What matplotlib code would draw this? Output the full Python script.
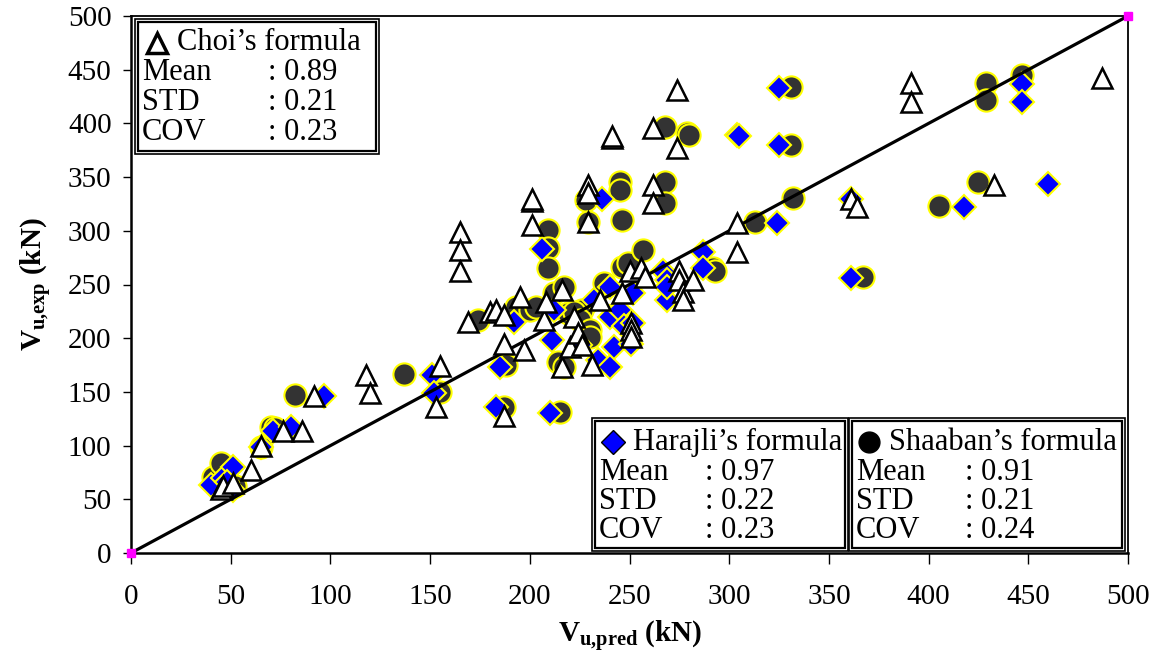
import matplotlib
matplotlib.use('Agg')
import matplotlib.pyplot as plt
from matplotlib.patches import Rectangle

plt.rcParams['font.family'] = ['Liberation Serif', 'DejaVu Serif']
plt.rcParams['mathtext.fontset'] = 'custom'
plt.rcParams['mathtext.rm'] = 'Liberation Serif'
plt.rcParams['mathtext.bf'] = 'Liberation Serif:bold'

# Choi's formula (pred, exp)
choi_x = [45, 46, 51, 60, 65, 76, 86, 92, 118, 120, 153, 155, 165, 165, 165,
          169, 180, 183, 187, 187, 187, 195, 197, 201, 201, 201, 207, 208, 216,
          216, 220, 222, 224, 226, 229, 229, 229, 231, 235, 241, 241, 246, 250,
          251, 251, 251, 256, 258, 262, 262, 262, 274, 274, 275, 275, 277, 277,
          282, 304, 304, 361, 364, 391, 391, 433, 487]
choi_y = [60, 62, 65, 77, 100, 114, 114, 146, 166, 149, 136, 174, 299, 282, 263,
          215, 224, 226, 222, 195, 128, 238, 189, 328, 330, 305, 217, 234, 245,
          173, 192, 220, 205, 194, 343, 335, 308, 175, 236, 386, 388, 242, 263,
          214, 208, 201, 265, 257, 396, 343, 326, 431, 377, 263, 254, 243, 236,
          254, 307, 280, 330, 322, 438, 420, 343, 442]

# Harajli's formula
har_x = [40, 46, 51, 51, 48, 65, 71, 80, 97, 151, 152, 183, 185, 192, 206,
         210, 211, 212, 225, 232, 234, 236, 240, 240, 240, 242, 245, 247, 251,
         252, 252, 267, 269, 269, 269, 287, 287, 304, 305, 324, 325, 325, 361,
         361, 418, 447, 447, 460]
har_y = [63, 70, 80, 59, 66, 99, 114, 117, 146, 166, 149, 136, 173, 215, 283,
         130, 198, 226, 194, 236, 180, 330, 173, 220, 248, 192, 226, 211, 195,
         214, 242, 263, 254, 236, 248, 280, 265, 389, 388, 307, 433, 380, 330,
         256, 322, 437, 420, 344]

# Shaaban's formula
sha_x = [41, 45, 47, 52, 65, 70, 72, 82, 137, 155, 174, 188, 187, 193, 200,
         203, 209, 209, 209, 212, 214, 215, 217, 217, 219, 226, 222, 225, 230,
         230, 237, 228, 229, 245, 245, 246, 246, 249, 257, 268, 268, 268, 279,
         280, 292, 293, 313, 331, 331, 332, 367, 405, 425, 429, 429, 447]
sha_y = [71, 84, 65, 62, 99, 117, 116, 147, 167, 150, 217, 175, 136, 229, 226,
         229, 301, 284, 265, 242, 178, 131, 248, 173, 223, 226, 224, 217, 208,
         201, 251, 329, 308, 345, 338, 310, 266, 270, 282, 397, 345, 326, 391,
         389, 265, 263, 308, 434, 380, 331, 257, 323, 345, 438, 422, 445]

boxes = [
    ("Choi\u2019s formula", ["0.89", "0.21", "0.23"]),
    ("Harajli\u2019s formula", ["0.97", "0.22", "0.23"]),
    ("Shaaban\u2019s formula", ["0.91", "0.21", "0.24"]),
]
stat_names = ["Mean", "STD", "COV"]

W, H = 1156, 656
fig = plt.figure(figsize=(W / 100, H / 100), dpi=100)
ax = fig.add_axes([131 / W, 1 - 553 / H, 997 / W, 537 / H])

ax.plot(sha_x, sha_y, 'o', ms=16, mfc='#333333', mec='#ffff00', mew=1.5,
        ls='none', zorder=2)
ax.plot(har_x, har_y, 'D', ms=12.5, mfc='#0000ff', mec='#ffff00', mew=1.5,
        ls='none', zorder=3)
ax.plot([0, 500], [0, 500], color='black', lw=2.3, zorder=4)
ax.plot(choi_x, choi_y, '^', ms=14, mfc='white', mec='black', mew=1.8,
        ls='none', zorder=5)
ax.plot([0, 500], [0, 500], 's', ms=6, color='#ff00ff', ls='none',
        clip_on=False, zorder=6)

ax.set_xlim(0, 500)
ax.set_ylim(0, 500)
ax.set_xticks(range(0, 501, 50))
ax.set_yticks(range(0, 501, 50))
ax.tick_params(axis='x', direction='out', length=8, width=1, pad=14, labelsize=21)
ax.tick_params(axis='y', direction='out', length=6, width=1, pad=8, labelsize=21)
for s in ax.spines.values():
    s.set_linewidth(1.3)
ax.spines['left'].set_linewidth(1.8)
ax.spines['bottom'].set_linewidth(1.8)

ax.set_xlabel(r'$\mathbf{V_{u{,}pred}}$ (kN)', fontsize=21, fontweight='bold',
              labelpad=7)
ax.set_ylabel(r'$\mathbf{V_{u{,}exp}}$ (kN)', fontsize=21, fontweight='bold',
              labelpad=10)


def px(x, y):
    return x / W, 1 - y / H


def stat_box(x0, y0, x1, y1, title, vals, sym, colx, symx):
    for d, lw in [(0, 1.6), (3, 1.2)]:
        r = Rectangle(px(x0 - d, y1 + d), (x1 - x0 + 2 * d) / W,
                      (y1 - y0 + 2 * d) / H, transform=fig.transFigure,
                      fill=(d == 3), facecolor='white', edgecolor='black',
                      lw=lw, zorder=10 - d)
        fig.patches.append(r)
    fig.lines.append(plt.Line2D(*zip(px(symx, y0 + 21)), transform=fig.transFigure,
                                zorder=12, **sym))
    fig.text(*px(symx + 20, y0 + 21), title, fontsize=22, va='center', zorder=12)
    for i, (name, v) in enumerate(zip(stat_names, vals)):
        yy = y0 + 51 + 29.5 * i
        fig.text(*px(x0 + 4, yy), name, fontsize=22, va='center', zorder=12)
        fig.text(*px(colx, yy), ': ' + v, fontsize=22, va='center', zorder=12)


stat_box(138, 22, 376, 151, boxes[0][0], boxes[0][1],
         dict(marker='^', ms=15, mfc='white', mec='black', mew=2.5), 268, 157)
stat_box(595, 421, 845, 548, boxes[1][0], boxes[1][1],
         dict(marker='D', ms=12, mfc='#0000ff', mec='black', mew=1), 705, 613)
stat_box(852, 421, 1122, 548, boxes[2][0], boxes[2][1],
         dict(marker='o', ms=15, mfc='black', mec='black'), 965, 869)

fig.savefig('out.png', dpi=100)
